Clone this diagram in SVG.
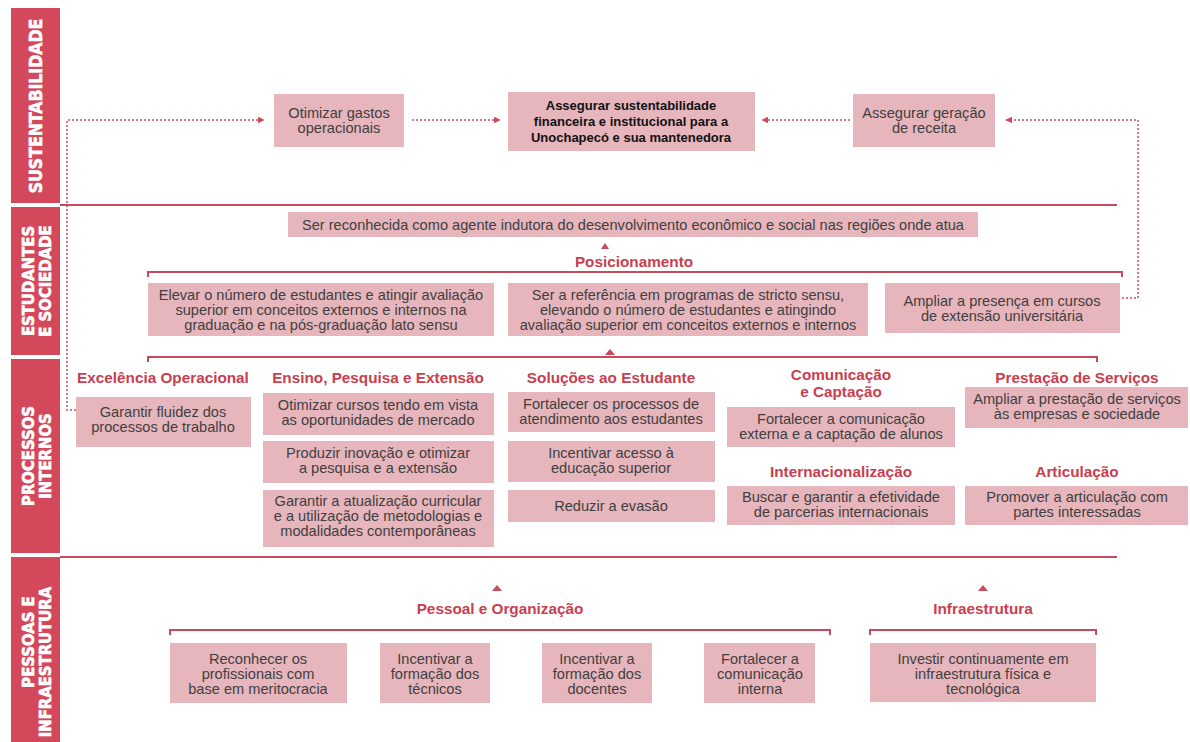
<svg xmlns="http://www.w3.org/2000/svg" width="1190" height="742" viewBox="0 0 1190 742">
<defs>
<style>
.band{fill:#d4485b}
.bt{fill:#fff;stroke:#fff;stroke-width:0.6;font-family:"Liberation Sans Narrow","DejaVu Sans Condensed","Liberation Sans",sans-serif;font-weight:bold;font-size:17.5px;text-anchor:middle}
.bt2{font-size:16.5px}
.box{fill:#e7b5bc}
.t{font-family:"Liberation Sans",Arial,sans-serif;font-size:14.6px;fill:#3f3f3f;text-anchor:middle}
.tb{font-family:"Liberation Sans",Arial,sans-serif;font-size:13px;font-weight:bold;fill:#111;text-anchor:middle}
.h{font-family:"Liberation Sans",Arial,sans-serif;font-size:15.3px;font-weight:bold;fill:#c8404f;text-anchor:middle}
.ln{stroke:#c94a5a;stroke-width:2;fill:none}
.dot{stroke:#c94a5a;stroke-width:1.5;stroke-dasharray:2 2;fill:none}
.tri{fill:#c94a5a}
</style>
<marker id="ah" viewBox="0 0 10 10" refX="9" refY="5" markerWidth="7" markerHeight="7" markerUnits="userSpaceOnUse" orient="auto">
<path d="M0,0 L10,5 L0,10 z" fill="#c94a5a"/>
</marker>
</defs>
<rect width="1190" height="742" fill="#fff"/>

<g id="sidebar">
<rect class="band" x="11" y="8" width="49" height="195"/>
<text class="bt" transform="translate(42,106) rotate(-90)">SUSTENTABILIDADE</text>
<rect class="band" x="11" y="207" width="49" height="148"/>
<text class="bt bt2" transform="translate(34,281) rotate(-90)">ESTUDANTES</text>
<text class="bt bt2" transform="translate(51,281) rotate(-90)">E SOCIEDADE</text>
<rect class="band" x="11" y="359" width="49" height="194"/>
<text class="bt bt2" transform="translate(34,456) rotate(-90)">PROCESSOS</text>
<text class="bt bt2" transform="translate(51,456) rotate(-90)">INTERNOS</text>
<rect class="band" x="11" y="557" width="49" height="185"/>
<text class="bt bt2" transform="translate(34,642) rotate(-90)">PESSOAS E</text>
<text class="bt bt2" transform="translate(51,662) rotate(-90)">INFRAESTRUTURA</text>
</g>

<g id="lines">
<path class="ln" d="M60,205 H1117"/>
<path class="ln" d="M60,557 H1117"/>
<path class="ln" d="M148,277 V272 H1122 V277"/>
<path class="ln" d="M148,362 V357 H1097 V362"/>
<path class="ln" d="M170,635 V630 H830 V635"/>
<path class="ln" d="M870,635 V630 H1096 V635"/>
<polygon class="tri" points="601,249 605,243 609,249"/>
<polygon class="tri" points="605,355 610,349 615,355"/>
<polygon class="tri" points="492,591 497,585 502,591"/>
<polygon class="tri" points="978,591 983,585 988,591"/>
</g>

<g id="connectors">
<path class="dot" d="M76,410 H67 V120 H264" marker-end="url(#ah)"/>
<path class="dot" d="M412,120 H500" marker-end="url(#ah)"/>
<path class="dot" d="M850,120 H762" marker-end="url(#ah)"/>
<path class="dot" d="M1122,298 H1138 V120 H1006" marker-end="url(#ah)"/>
</g>

<g id="n-otimizar-gastos">
<rect class="box" x="274" y="94" width="130" height="53"/>
<text class="t" x="339" y="118">Otimizar gastos</text>
<text class="t" x="339" y="133">operacionais</text>
</g>
<g id="n-assegurar-sust">
<rect class="box" x="508" y="92" width="247" height="59"/>
<text class="tb" x="631" y="110">Assegurar sustentabilidade</text>
<text class="tb" x="631" y="126">financeira e institucional para a</text>
<text class="tb" x="631" y="142">Unochapecó e sua mantenedora</text>
</g>
<g id="n-assegurar-receita">
<rect class="box" x="853" y="94" width="142" height="53"/>
<text class="t" x="924" y="118">Assegurar geração</text>
<text class="t" x="924" y="133">de receita</text>
</g>

<g id="n-reconhecida">
<rect class="box" x="288" y="212" width="690" height="25"/>
<text class="t" x="633" y="230">Ser reconhecida como agente indutora do desenvolvimento econômico e social nas regiões onde atua</text>
</g>
<g id="h-posicionamento"><text class="h" x="634" y="267">Posicionamento</text></g>
<g id="n-elevar">
<rect class="box" x="148" y="283" width="346" height="53"/>
<text class="t" x="321" y="300">Elevar o número de estudantes e atingir avaliação</text>
<text class="t" x="321" y="315">superior em conceitos externos e internos na</text>
<text class="t" x="321" y="330">graduação e na pós-graduação lato sensu</text>
</g>
<g id="n-referencia">
<rect class="box" x="508" y="283" width="360" height="53"/>
<text class="t" x="688" y="300">Ser a referência em programas de stricto sensu,</text>
<text class="t" x="688" y="315">elevando o número de estudantes e atingindo</text>
<text class="t" x="688" y="330">avaliação superior em conceitos externos e internos</text>
</g>
<g id="n-ampliar-extensao">
<rect class="box" x="885" y="283" width="235" height="50"/>
<text class="t" x="1002" y="306">Ampliar a presença em cursos</text>
<text class="t" x="1002" y="321">de extensão universitária</text>
</g>

<g id="h-processos">
<text class="h" x="163" y="383">Excelência Operacional</text>
<text class="h" x="378" y="383">Ensino, Pesquisa e Extensão</text>
<text class="h" x="611" y="383">Soluções ao Estudante</text>
<text class="h" x="841" y="380">Comunicação</text>
<text class="h" x="841" y="397">e Captação</text>
<text class="h" x="1077" y="383">Prestação de Serviços</text>
<text class="h" x="841" y="477">Internacionalização</text>
<text class="h" x="1077" y="477">Articulação</text>
</g>

<g id="n-fluidez">
<rect class="box" x="76" y="397" width="175" height="50"/>
<text class="t" x="163" y="417">Garantir fluidez dos</text>
<text class="t" x="163" y="432">processos de trabalho</text>
</g>
<g id="n-otimizar-cursos">
<rect class="box" x="263" y="393" width="231" height="42"/>
<text class="t" x="378" y="410">Otimizar cursos tendo em vista</text>
<text class="t" x="378" y="425">as oportunidades de mercado</text>
</g>
<g id="n-inovacao">
<rect class="box" x="263" y="441" width="231" height="42"/>
<text class="t" x="378" y="458">Produzir inovação e otimizar</text>
<text class="t" x="378" y="473">a pesquisa e a extensão</text>
</g>
<g id="n-atualizacao">
<rect class="box" x="263" y="490" width="231" height="57"/>
<text class="t" x="378" y="506">Garantir a atualização curricular</text>
<text class="t" x="378" y="521">e a utilização de metodologias e</text>
<text class="t" x="378" y="536">modalidades contemporâneas</text>
</g>
<g id="n-atendimento">
<rect class="box" x="508" y="392" width="207" height="40"/>
<text class="t" x="611" y="409">Fortalecer os processos de</text>
<text class="t" x="611" y="424">atendimento aos estudantes</text>
</g>
<g id="n-acesso">
<rect class="box" x="508" y="441" width="207" height="41"/>
<text class="t" x="611" y="458">Incentivar acesso à</text>
<text class="t" x="611" y="473">educação superior</text>
</g>
<g id="n-evasao">
<rect class="box" x="508" y="490" width="207" height="32"/>
<text class="t" x="611" y="511">Reduzir a evasão</text>
</g>
<g id="n-comunicacao-ext">
<rect class="box" x="727" y="407" width="228" height="40"/>
<text class="t" x="841" y="424">Fortalecer a comunicação</text>
<text class="t" x="841" y="439">externa e a captação de alunos</text>
</g>
<g id="n-parcerias">
<rect class="box" x="727" y="486" width="228" height="39"/>
<text class="t" x="841" y="502">Buscar e garantir a efetividade</text>
<text class="t" x="841" y="517">de parcerias internacionais</text>
</g>
<g id="n-prestacao">
<rect class="box" x="965" y="387" width="223" height="41"/>
<text class="t" x="1077" y="404">Ampliar a prestação de serviços</text>
<text class="t" x="1077" y="419">às empresas e sociedade</text>
</g>
<g id="n-articulacao">
<rect class="box" x="965" y="486" width="223" height="39"/>
<text class="t" x="1077" y="502">Promover a articulação com</text>
<text class="t" x="1077" y="517">partes interessadas</text>
</g>

<g id="h-pessoas">
<text class="h" x="500" y="614">Pessoal e Organização</text>
<text class="h" x="983" y="614">Infraestrutura</text>
</g>
<g id="n-meritocracia">
<rect class="box" x="170" y="643" width="177" height="60"/>
<text class="t" x="258" y="664">Reconhecer os</text>
<text class="t" x="258" y="679">profissionais com</text>
<text class="t" x="258" y="694">base em meritocracia</text>
</g>
<g id="n-tecnicos">
<rect class="box" x="380" y="643" width="110" height="60"/>
<text class="t" x="435" y="664">Incentivar a</text>
<text class="t" x="435" y="679">formação dos</text>
<text class="t" x="435" y="694">técnicos</text>
</g>
<g id="n-docentes">
<rect class="box" x="542" y="643" width="110" height="60"/>
<text class="t" x="597" y="664">Incentivar a</text>
<text class="t" x="597" y="679">formação dos</text>
<text class="t" x="597" y="694">docentes</text>
</g>
<g id="n-comunicacao-int">
<rect class="box" x="704" y="643" width="111" height="60"/>
<text class="t" x="760" y="664">Fortalecer a</text>
<text class="t" x="760" y="679">comunicação</text>
<text class="t" x="760" y="694">interna</text>
</g>
<g id="n-infra">
<rect class="box" x="870" y="643" width="226" height="59"/>
<text class="t" x="983" y="664">Investir continuamente em</text>
<text class="t" x="983" y="679">infraestrutura física e</text>
<text class="t" x="983" y="694">tecnológica</text>
</g>
</svg>
